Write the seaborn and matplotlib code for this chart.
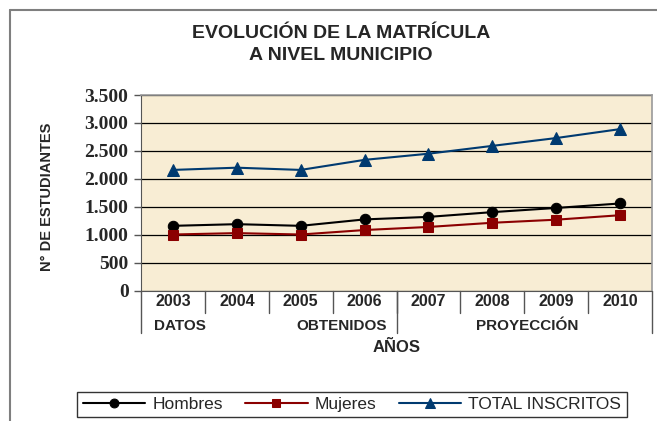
import matplotlib
matplotlib.use("Agg")
import matplotlib.pyplot as plt
import matplotlib.ticker as mticker
import matplotlib.transforms as mtransforms
from matplotlib.lines import Line2D
import numpy as np
import pandas as pd
import seaborn as sns

years = ["2003", "2004", "2005", "2006", "2007", "2008", "2009", "2010"]
hombres = [1160, 1190, 1160, 1275, 1320, 1405, 1480, 1560]
mujeres = [1005, 1030, 1005, 1085, 1140, 1215, 1270, 1350]
total = [2160, 2200, 2160, 2340, 2450, 2590, 2730, 2890]
series_names = ["Hombres", "Mujeres", "TOTAL INSCRITOS"]
groups = [("DATOS", "OBTENIDOS"), ("PROYECCIÓN",)]
y_ticks = [0, 500, 1000, 1500, 2000, 2500, 3000, 3500]

sns.set_style("white")
plt.rcParams["font.family"] = ["Liberation Sans", "DejaVu Sans"]

W, H = 657, 421
fig = plt.figure(figsize=(W / 100, H / 100), dpi=100)
fig.patch.set_facecolor("white")

left, right, top, bottom = 141, 652, 95, 290.7
ax = fig.add_axes([left / W, 1 - bottom / H, (right - left) / W, (bottom - top) / H])
ax.set_facecolor("#F8EDD4")

pos = np.arange(len(years))
styles = [
    (hombres, "black", "o", 7.5),
    (mujeres, "#8B0000", "s", 7.5),
    (total, "#003A70", "^", 8.5),
]
for (vals, col, mk, ms), name in zip(styles, series_names):
    sns.lineplot(x=pos, y=vals, ax=ax, color=col, marker=mk, markersize=ms,
                 markeredgecolor=col, linewidth=1.5, label=name)
ax.get_legend().remove()

ax.set_xlim(-0.5, len(years) - 0.5)
ax.set_ylim(0, 3500)
ax.set_yticks(y_ticks)
ax.yaxis.set_major_formatter(mticker.FuncFormatter(lambda v, p: f"{int(v):,}".replace(",", ".")))
ax.yaxis.grid(True, color="black", linewidth=0.9)
ax.set_axisbelow(True)
ax.set_xticks([])
ax.tick_params(axis="y", left=True, length=5, width=1, color="#555555", pad=4)
for lab in ax.get_yticklabels():
    lab.set_fontfamily("Liberation Serif")
    lab.set_fontweight("bold")
    lab.set_fontsize(14)
for side in ["top", "right"]:
    ax.spines[side].set_color("#9a9a9a")
    ax.spines[side].set_linewidth(1.2)
ax.spines["left"].set_color("#555555")
ax.spines["bottom"].set_color("#555555")
ax.set_xlabel("")
ax.set_ylabel("")

# category table under the axis
trans = mtransforms.blended_transform_factory(ax.transData, ax.transAxes)
ah = bottom - top
row1 = -(313 - bottom) / ah
row2 = -(333 - bottom) / ah
for i, y in enumerate(years):
    ax.text(i, -(302 - bottom) / ah, y, transform=trans, ha="center", va="center",
            fontsize=11.5, fontweight="bold")
for i in range(1, len(years)):
    ax.plot([i - 0.5, i - 0.5], [0, row1], transform=trans, color="#555555",
            lw=1, clip_on=False)
for xb in [-0.5, 3.5, len(years) - 0.5]:
    ax.plot([xb, xb], [0, row2], transform=trans, color="#555555", lw=1, clip_on=False)
gy = -(326 - bottom) / ah
ax.text(-0.3, gy, groups[0][0], transform=trans, ha="left", va="center",
        fontsize=11, fontweight="bold")
ax.text(3.35, gy, groups[0][1], transform=trans, ha="right", va="center",
        fontsize=11, fontweight="bold")
ax.text(5.55, gy, groups[1][0], transform=trans, ha="center", va="center",
        fontsize=11, fontweight="bold")
ax.text(0.5, -(348 - bottom) / ah, "AÑOS", transform=ax.transAxes, ha="center",
        va="center", fontsize=12, fontweight="bold")

fig.text(47 / W, 1 - 197 / H, "N° DE ESTUDIANTES", rotation=90, ha="center",
         va="center", fontsize=10.5, fontweight="bold")
fig.text(341 / W, 1 - 33 / H, "EVOLUCIÓN DE LA MATRÍCULA", ha="center", va="center",
         fontsize=14, fontweight="bold")
fig.text(341 / W, 1 - 55 / H, "A NIVEL MUNICIPIO", ha="center", va="center",
         fontsize=14, fontweight="bold")

# outer chart frame
fig.add_artist(Line2D([10 / W, 1], [1 - 10 / H, 1 - 10 / H], color="#7f7f7f", lw=1.5))
fig.add_artist(Line2D([10 / W, 10 / W], [0, 1 - 10 / H], color="#7f7f7f", lw=1.5))

handles, labels = ax.get_legend_handles_labels()
leg = fig.legend(handles, labels, loc="center", bbox_to_anchor=(352 / W, 1 - 404.5 / H),
                 ncol=3, fontsize=12.5, frameon=True, fancybox=False, handlelength=3.6,
                 columnspacing=1.3, handletextpad=0.4, borderpad=0.3, markerscale=0.85)
leg.get_frame().set_edgecolor("black")
leg.get_frame().set_linewidth(1)

fig.savefig("out.png", dpi=100)
